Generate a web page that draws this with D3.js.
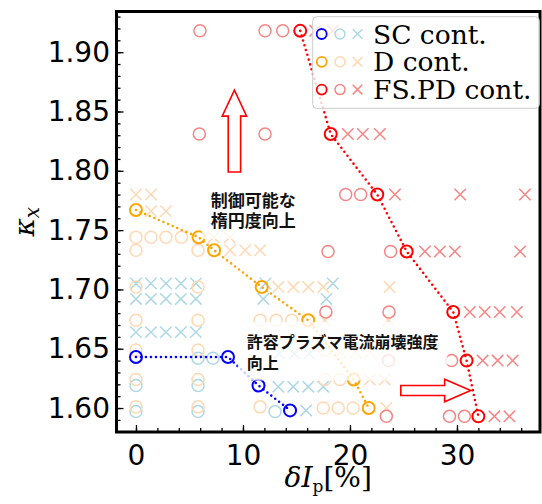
<!DOCTYPE html>
<html><head><meta charset="utf-8">
<script src="https://cdn.jsdelivr.net/npm/d3@7"></script>
<style>body{margin:0;background:#fff;overflow:hidden}</style>
</head><body><svg id="c" width="542" height="504"></svg>
<script>
// ---------- data ----------
const xTickValues = [0, 10, 20, 30];
const yTickValues = [1.60, 1.65, 1.70, 1.75, 1.80, 1.85, 1.90];
const legendLabels = ["SC cont.", "D cont.", "FS.PD cont."];

// SC cont.
const scBoundary = [[0,1.643],[8.6,1.643],[11.45,1.619],[14.4,1.598]];
const scCircles  = [[5.8,1.642],[7.2,1.642],[0,1.619],[5.8,1.619],[0,1.597],[5.8,1.597],[13.0,1.597]];
const scCrosses  = [
  [0,1.705],[1.4,1.705],[2.8,1.705],[4.2,1.705],[5.6,1.705],[12.1,1.705],[18.4,1.705],
  [0,1.692],[1.4,1.692],[2.8,1.692],[4.2,1.692],[5.6,1.692],[11.9,1.692],[17.8,1.692],
  [0,1.664],[1.4,1.664],[2.8,1.664],[4.2,1.664],[5.6,1.664],
  [13.4,1.646],[14.8,1.646],[16.2,1.646],
  [13.3,1.618],[14.7,1.618],[16.1,1.618],[17.5,1.618],
  [15.9,1.598]
];
// D cont.
const dBoundary = [[0,1.767],[5.85,1.744],[7.3,1.733],[11.75,1.702],[16.1,1.674],[20.35,1.624],[21.75,1.600]];
const dCircles  = [
  [0,1.744],[1.4,1.744],[2.8,1.744],[4.25,1.744],
  [0,1.733],[5.8,1.733],
  [0,1.702],[5.8,1.702],
  [0,1.674],[5.8,1.674],[11.6,1.674],[13.1,1.674],[14.55,1.674],
  [0,1.649],[5.8,1.649],[17.65,1.649],
  [0,1.624],[5.8,1.624],[17.65,1.624],[19.05,1.624],
  [0,1.601],[5.8,1.601],[11.6,1.601],[17.5,1.600],[18.9,1.600],[20.3,1.600]
];
const dCrosses  = [
  [0,1.780],[1.4,1.780],
  [1.4,1.766],[2.8,1.766],
  [7.25,1.744],[8.75,1.744],
  [8.8,1.733],[10.2,1.733],[11.6,1.733],
  [13.3,1.702],[14.7,1.702],[16.1,1.702],[17.5,1.702],[23.7,1.702],
  [17.65,1.674],[23.6,1.674],
  [19.1,1.647],[20.5,1.647],[21.9,1.647],
  [21.85,1.624],[23.25,1.624],
  [23.4,1.600]
];
// FS.PD cont.
const fsBoundary = [[15.35,1.918],[18.2,1.831],[22.55,1.780],[25.3,1.732],[29.65,1.681],[30.9,1.640],[32.0,1.593]];
const fsCircles  = [
  [5.98,1.918],[12.06,1.918],[13.71,1.918],
  [5.92,1.831],[12.06,1.831],
  [19.6,1.780],[21.0,1.780],
  [17.95,1.732],[23.8,1.732],
  [17.75,1.681],[23.65,1.681],
  [23.6,1.640],[29.5,1.640],
  [23.4,1.593],[29.3,1.593],[30.7,1.593]
];
const fsCrosses  = [
  [16.75,1.918],[18.4,1.918],
  [19.8,1.831],[21.2,1.831],[22.8,1.831],
  [24.2,1.780],[30.3,1.780],[36.35,1.780],
  [27.0,1.732],[28.4,1.732],[29.8,1.732],[35.9,1.732],
  [31.2,1.681],[32.6,1.681],[34.0,1.681],[35.6,1.681],
  [32.4,1.640],[33.8,1.640],[35.2,1.640],
  [33.5,1.593],[34.9,1.593]
];
// annotations (data coordinates)
const noteControl = {lines:["制御可能な","楕円度向上"], at:[7.0,1.7762]};
const noteCurrent = {lines:["許容プラズマ電流崩壊強度","向上"], at:[10.35,1.6565]};
const arrowUp    = {from:[9.2,1.799], to:[9.2,1.868]};
const arrowRight = {from:[24.75,1.6148], to:[31.28,1.6148]};

// ---------- drawing ----------
const svg = d3.select("#c");
const L = 116.5, R = 540, T = 11.5, B = 432;
const x = d3.scaleLinear().domain([-1.82, 37.76]).range([L, R]);
const y = d3.scaleLinear().domain([1.5798, 1.9343]).range([B, T]);

const col = {
  sc:  {dark:"#0000ff", light:"#add8e6"},
  d:   {dark:"#ffa500", light:"#ffd8b4"},
  fs:  {dark:"#ff0000", light:"#f88484"}
};
const R0 = 6, XS = 5.7;

const plot = svg.append("g");
function circles(g, data, color, sw){
  g.selectAll(null).data(data).enter().append("circle")
    .attr("cx", d=>x(d[0])).attr("cy", d=>y(d[1])).attr("r", R0)
    .attr("fill","none").attr("stroke", color).attr("stroke-width", sw);
}
function crosses(g, data, color, sw){
  g.selectAll(null).data(data).enter().append("path")
    .attr("d", d=>{const cx=x(d[0]), cy=y(d[1]);
      return `M${cx-XS},${cy-XS}L${cx+XS},${cy+XS}M${cx-XS},${cy+XS}L${cx+XS},${cy-XS}`;})
    .attr("stroke", color).attr("stroke-width", sw).attr("fill","none");
}
const line = d3.line().x(d=>x(d[0])).y(d=>y(d[1]));

// light markers
crosses(plot, scCrosses, col.sc.light, 1.5);
circles(plot, scCircles, col.sc.light, 1.5);
crosses(plot, dCrosses, col.d.light, 1.5);
circles(plot, dCircles, col.d.light, 1.5);
crosses(plot, fsCrosses, col.fs.light, 1.5);
circles(plot, fsCircles, col.fs.light, 1.5);

// boundary lines + markers
[[scBoundary,col.sc.dark],[dBoundary,col.d.dark],[fsBoundary,col.fs.dark]].forEach(([data,c])=>{
  plot.append("path").datum(data).attr("d", line).attr("fill","none")
    .attr("stroke", c).attr("stroke-width", 2.6).attr("stroke-linecap","round")
    .attr("stroke-dasharray","0 5");
  circles(plot, data, c, 2);
});

// annotations with translucent white boxes
function note(n, size){
  const g = svg.append("g");
  const t = g.append("text").attr("font-family","'Noto Sans CJK JP'").attr("font-weight","bold")
    .attr("font-size", size).attr("fill","#111");
  n.lines.forEach((s,i)=>{
    t.append("tspan").attr("x", x(n.at[0])).attr("y", y(n.at[1]) + i*20.5)
      .attr("dominant-baseline","central").text(s);
  });
  const bb = t.node().getBBox();
  const pad = 9;
  g.insert("rect","text").attr("x", bb.x-pad).attr("y", bb.y-pad+2)
    .attr("width", bb.width+2*pad).attr("height", bb.height+2*pad-4)
    .attr("fill","#fff").attr("fill-opacity",0.78);
}
note(noteControl, 17);
note(noteCurrent, 16);

// arrows (block style, red outline, white fill)
function blockArrow(a, shaftHalf, headHalf, headLen){
  const x1=x(a.from[0]), y1=y(a.from[1]), x2=x(a.to[0]), y2=y(a.to[1]);
  const len = Math.hypot(x2-x1,y2-y1), ang = Math.atan2(y2-y1,x2-x1)*180/Math.PI;
  const s = len-headLen;
  const pts = [[0,-shaftHalf],[s,-shaftHalf],[s,-headHalf],[len,0],[s,headHalf],[s,shaftHalf],[0,shaftHalf]];
  svg.append("path").attr("d","M"+pts.map(p=>p.join(",")).join("L")+"Z")
    .attr("transform",`translate(${x1},${y1}) rotate(${ang})`)
    .attr("fill","#fff").attr("stroke","#ff0000").attr("stroke-width",1.6).attr("stroke-linejoin","miter");
}
blockArrow(arrowUp, 6.2, 12.2, 26);
blockArrow(arrowRight, 5, 11.2, 26);

// axes
const tickFont = "'DejaVu Sans'";
const yAxis = svg.append("g").attr("transform",`translate(${L},0)`)
  .call(d3.axisLeft(y).tickValues(yTickValues).tickSize(-7).tickPadding(6.5).tickFormat(d3.format(".2f")));
const yMinor = svg.append("g").attr("transform",`translate(${L},0)`)
  .call(d3.axisLeft(y).tickValues(d3.range(158,194).map(v=>v/100)).tickSize(-4).tickFormat(""));
const xAxis = svg.append("g").attr("transform",`translate(0,${B})`)
  .call(d3.axisBottom(x).tickValues(xTickValues).tickSize(-7).tickPadding(13).tickFormat(d3.format("d")));
const xMinor = svg.append("g").attr("transform",`translate(0,${B})`)
  .call(d3.axisBottom(x).tickValues(d3.range(0,38,2)).tickSize(-4).tickFormat(""));
[yAxis,yMinor,xAxis,xMinor].forEach(g=>{
  g.select(".domain").remove();
  g.selectAll(".tick line").attr("stroke","#000").attr("stroke-width",1.3);
  g.selectAll("text").attr("font-family",tickFont).attr("font-size",28).attr("fill","#000");
});

// frame
svg.append("rect").attr("x",L).attr("y",T).attr("width",R-L).attr("height",B-T)
  .attr("fill","none").attr("stroke","#000").attr("stroke-width",3);

// axis labels
const serif = "'DejaVu Serif'";
const yl = svg.append("text").attr("transform",`translate(34,${(T+B)/2}) rotate(-90)`)
  .attr("text-anchor","middle").attr("font-family",serif).attr("font-size",28).attr("fill","#000");
yl.append("tspan").attr("font-style","italic").text("κ");
yl.append("tspan").attr("font-style","italic").attr("font-size",20).attr("dy",5).text("x");

const xl = svg.append("text").attr("x",(L+R)/2).attr("y",487)
  .attr("text-anchor","middle").attr("font-family",serif).attr("font-size",28).attr("fill","#000");
xl.append("tspan").attr("font-style","italic").text("δI");
xl.append("tspan").attr("font-size",17).attr("dy",5).text("p");
xl.append("tspan").attr("dy",-5).text("[%]");

// legend
const lg = svg.append("g");
lg.append("rect").attr("x",312.7).attr("y",16.7).attr("width",226.6).attr("height",91.6)
  .attr("rx",4).attr("fill","#fff").attr("fill-opacity",0.8).attr("stroke","#cccccc").attr("stroke-width",1);
const legendColors = [col.sc, col.d, col.fs];
legendLabels.forEach((lab,i)=>{
  const cy = 34 + i*27.8;
  const c = legendColors[i];
  lg.append("circle").attr("cx",321.7).attr("cy",cy).attr("r",5).attr("fill","none").attr("stroke",c.dark).attr("stroke-width",1.8);
  lg.append("circle").attr("cx",340).attr("cy",cy).attr("r",5).attr("fill","none").attr("stroke",c.light).attr("stroke-width",1.5);
  const s=4.8, cx=357.5;
  lg.append("path").attr("d",`M${cx-s},${cy-s}L${cx+s},${cy+s}M${cx-s},${cy+s}L${cx+s},${cy-s}`)
    .attr("stroke",c.light).attr("stroke-width",1.5);
  lg.append("text").attr("x",373).attr("y",cy).attr("dominant-baseline","central")
    .attr("font-family",serif).attr("font-size",26.5).attr("fill","#000").text(lab);
});
</script></body></html>
